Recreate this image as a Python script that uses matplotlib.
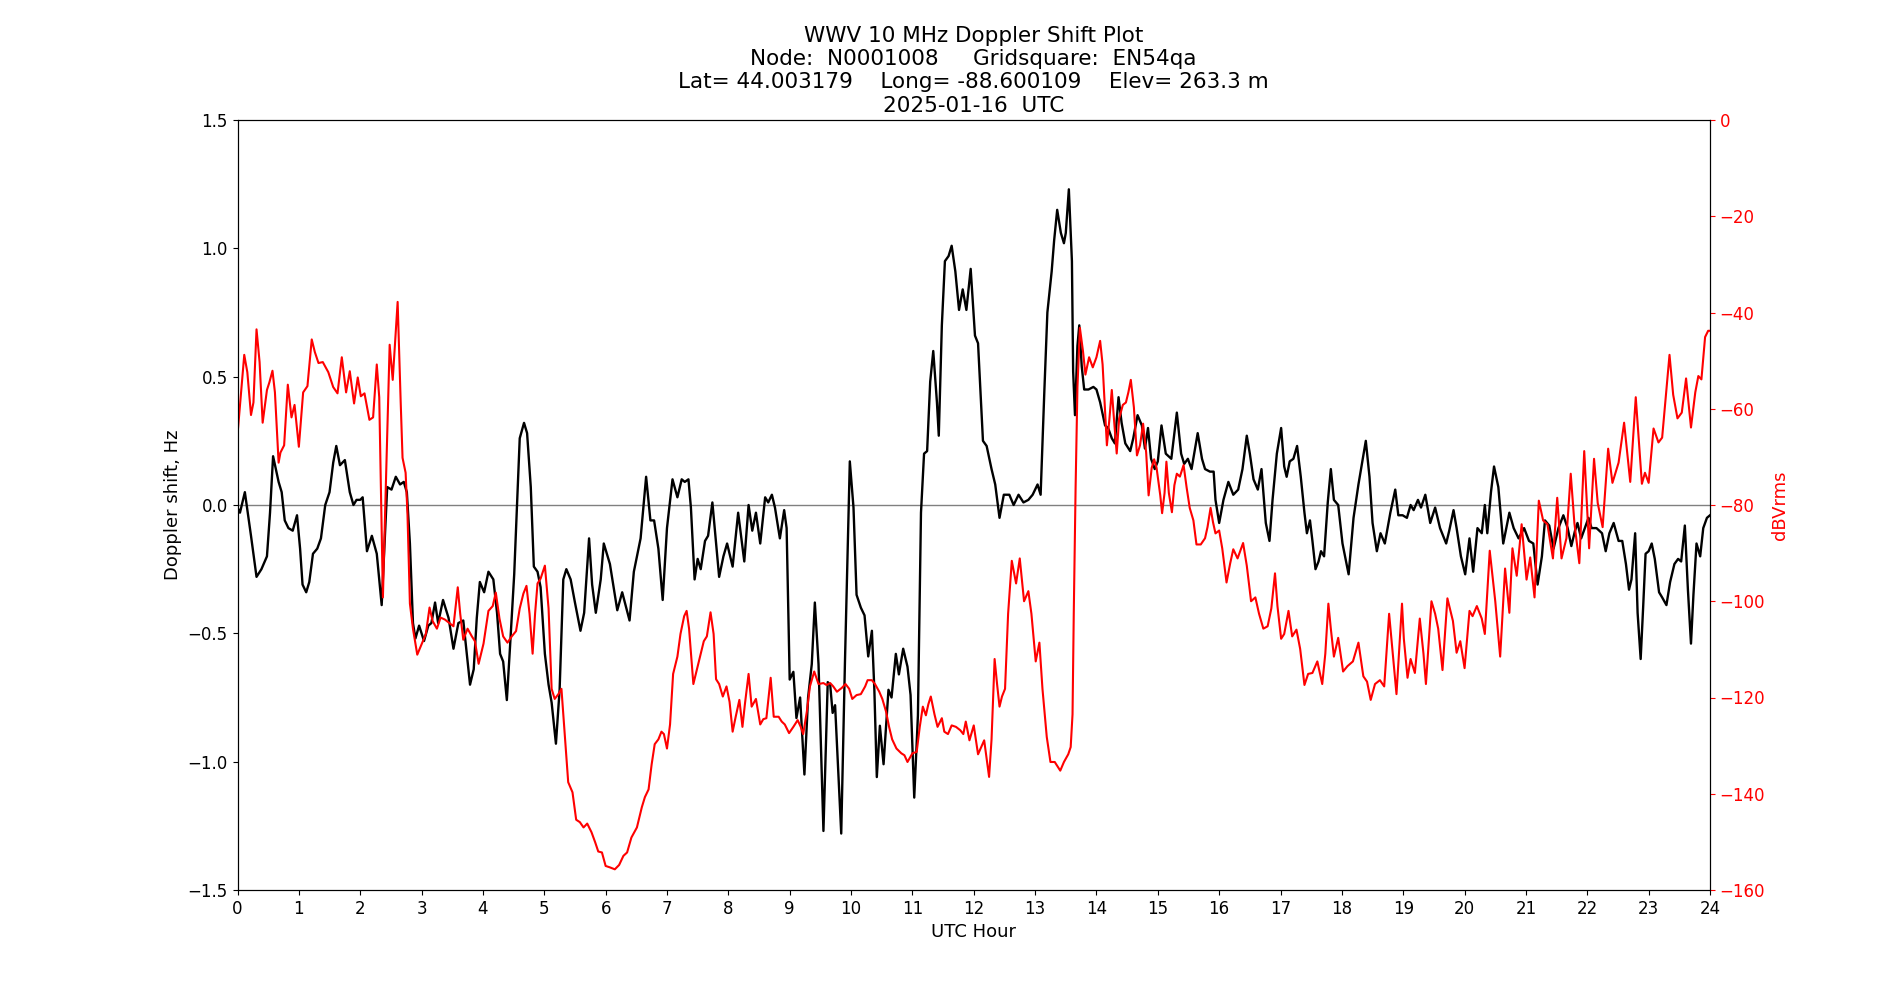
import matplotlib
matplotlib.use("Agg")
import matplotlib.pyplot as plt

title_text = ("WWV 10 MHz Doppler Shift Plot\n"
              "Node:  N0001008     Gridsquare:  EN54qa\n"
              "Lat= 44.003179    Long= -88.600109    Elev= 263.3 m\n"
              "2025-01-16  UTC")

doppler_hours = [
    0.0, 0.04, 0.12, 0.22, 0.31, 0.39, 0.48, 0.53, 0.58, 0.67, 0.72, 0.77, 0.83, 0.9, 0.97,
    1.02, 1.06, 1.12, 1.17, 1.23, 1.3, 1.36, 1.43, 1.5, 1.56, 1.61, 1.67, 1.75, 1.83, 1.89,
    1.94, 2.0, 2.04, 2.11, 2.19, 2.27, 2.35, 2.44, 2.51, 2.58, 2.65, 2.71, 2.76, 2.81, 2.86,
    2.9, 2.96, 3.04, 3.11, 3.16, 3.22, 3.27, 3.35, 3.44, 3.52, 3.6, 3.68, 3.72, 3.79, 3.85,
    3.9, 3.95, 4.02, 4.09, 4.17, 4.23, 4.28, 4.33, 4.39, 4.44, 4.51, 4.55, 4.6, 4.67, 4.72,
    4.78, 4.83, 4.89, 4.94, 5.01, 5.07, 5.12, 5.19, 5.25, 5.31, 5.36, 5.43, 5.5, 5.59, 5.65,
    5.73, 5.78, 5.84, 5.92, 5.97, 6.07, 6.19, 6.27, 6.39, 6.46, 6.57, 6.66, 6.73, 6.79, 6.86,
    6.93, 7.0, 7.09, 7.17, 7.24, 7.29, 7.35, 7.39, 7.45, 7.5, 7.55, 7.62, 7.67, 7.74, 7.8,
    7.85, 7.92, 7.98, 8.07, 8.16, 8.26, 8.33, 8.39, 8.45, 8.52, 8.6, 8.65, 8.71, 8.76, 8.84,
    8.91, 8.95, 9.0, 9.06, 9.11, 9.17, 9.24, 9.3, 9.36, 9.41, 9.47, 9.55, 9.62, 9.66, 9.7,
    9.74, 9.84, 9.9, 9.98, 10.04, 10.09, 10.16, 10.22, 10.28, 10.34, 10.38, 10.42, 10.47, 10.53, 10.61,
    10.66, 10.73, 10.78, 10.85, 10.92, 10.97, 11.03, 11.09, 11.14, 11.19, 11.24, 11.29, 11.34, 11.4, 11.43,
    11.48, 11.53, 11.59, 11.64, 11.7, 11.76, 11.82, 11.88, 11.95, 12.02, 12.07, 12.15, 12.21, 12.29, 12.35,
    12.42, 12.49, 12.58, 12.65, 12.73, 12.81, 12.89, 12.96, 13.04, 13.09, 13.15, 13.2, 13.27, 13.31, 13.36,
    13.42, 13.47, 13.5, 13.55, 13.6, 13.62, 13.65, 13.69, 13.72, 13.76, 13.8, 13.87, 13.95, 14.0, 14.06,
    14.14, 14.19, 14.25, 14.3, 14.36, 14.41, 14.47, 14.55, 14.6, 14.67, 14.74, 14.79, 14.84, 14.89, 14.95,
    15.0, 15.06, 15.13, 15.22, 15.31, 15.38, 15.43, 15.49, 15.55, 15.65, 15.72, 15.77, 15.85, 15.91, 15.94,
    16.0, 16.07, 16.15, 16.23, 16.31, 16.38, 16.45, 16.5, 16.56, 16.63, 16.69, 16.76, 16.82, 16.87, 16.94,
    17.01, 17.06, 17.1, 17.15, 17.21, 17.27, 17.33, 17.39, 17.43, 17.48, 17.52, 17.57, 17.62, 17.66, 17.71,
    17.77, 17.82, 17.87, 17.94, 18.01, 18.11, 18.19, 18.27, 18.34, 18.39, 18.45, 18.5, 18.57, 18.63, 18.7,
    18.79, 18.87, 18.92, 18.99, 19.06, 19.12, 19.17, 19.24, 19.29, 19.36, 19.44, 19.52, 19.6, 19.7, 19.75,
    19.82, 19.87, 19.94, 20.01, 20.08, 20.14, 20.21, 20.28, 20.33, 20.37, 20.43, 20.48, 20.55, 20.63, 20.73,
    20.8, 20.88, 20.97, 21.05, 21.12, 21.19, 21.26, 21.31, 21.38, 21.45, 21.53, 21.61, 21.68, 21.74, 21.8,
    21.84, 21.9, 21.96, 22.02, 22.07, 22.15, 22.24, 22.3, 22.36, 22.43, 22.51, 22.57, 22.63, 22.68, 22.72,
    22.78, 22.82, 22.87, 22.91, 22.95, 23.0, 23.05, 23.1, 23.17, 23.22, 23.29, 23.35, 23.42, 23.48, 23.53,
    23.59, 23.64, 23.69, 23.73, 23.78, 23.84, 23.89, 23.95, 24.0,
]
doppler_hz = [
    -0.01, -0.03, 0.05, -0.12, -0.28, -0.25, -0.2, -0.03, 0.19, 0.09, 0.05, -0.06, -0.09, -0.1, -0.04,
    -0.17, -0.31, -0.34, -0.3, -0.19, -0.17, -0.13, 0.0, 0.05, 0.165, 0.23, 0.155, 0.175, 0.05, 0.0,
    0.02, 0.02, 0.03, -0.18, -0.12, -0.19, -0.39, 0.07, 0.06, 0.11, 0.08, 0.09, 0.05, -0.15, -0.46,
    -0.52, -0.47, -0.53, -0.47, -0.46, -0.38, -0.46, -0.37, -0.44, -0.56, -0.46, -0.45, -0.54, -0.7, -0.64,
    -0.44, -0.3, -0.34, -0.26, -0.29, -0.42, -0.58, -0.61, -0.76, -0.56, -0.27, -0.03, 0.26, 0.32, 0.28,
    0.07, -0.24, -0.26, -0.32, -0.58, -0.7, -0.77, -0.93, -0.72, -0.29, -0.25, -0.29, -0.38, -0.49, -0.42,
    -0.13, -0.31, -0.42, -0.29, -0.15, -0.23, -0.41, -0.34, -0.45, -0.26, -0.13, 0.11, -0.06, -0.06, -0.17,
    -0.37, -0.09, 0.1, 0.03, 0.1, 0.09, 0.1, -0.01, -0.29, -0.21, -0.25, -0.14, -0.12, 0.01, -0.15,
    -0.28, -0.2, -0.15, -0.24, -0.03, -0.22, 0.0, -0.1, -0.03, -0.15, 0.03, 0.01, 0.04, -0.01, -0.13,
    -0.02, -0.09, -0.68, -0.65, -0.83, -0.75, -1.05, -0.75, -0.62, -0.38, -0.62, -1.27, -0.69, -0.7, -0.81,
    -0.78, -1.28, -0.62, 0.17, -0.01, -0.35, -0.4, -0.43, -0.59, -0.49, -0.72, -1.06, -0.86, -1.01, -0.72,
    -0.75, -0.58, -0.66, -0.56, -0.63, -0.74, -1.14, -0.82, -0.03, 0.2, 0.21, 0.48, 0.6, 0.4, 0.27,
    0.7, 0.95, 0.97, 1.01, 0.91, 0.76, 0.84, 0.76, 0.92, 0.66, 0.63, 0.25, 0.23, 0.14, 0.08,
    -0.05, 0.04, 0.04, 0.0, 0.04, 0.01, 0.02, 0.04, 0.08, 0.04, 0.44, 0.75, 0.91, 1.03, 1.15,
    1.06, 1.02, 1.06, 1.23, 0.95, 0.52, 0.35, 0.62, 0.7, 0.54, 0.45, 0.45, 0.46, 0.45, 0.4,
    0.31, 0.3, 0.26, 0.24, 0.42, 0.32, 0.24, 0.21, 0.26, 0.35, 0.31, 0.22, 0.3, 0.18, 0.14,
    0.17, 0.31, 0.2, 0.18, 0.36, 0.2, 0.16, 0.18, 0.14, 0.28, 0.18, 0.14, 0.13, 0.13, 0.02,
    -0.07, 0.02, 0.09, 0.04, 0.06, 0.14, 0.27, 0.2, 0.1, 0.06, 0.14, -0.07, -0.14, 0.02, 0.2,
    0.3, 0.15, 0.11, 0.17, 0.18, 0.23, 0.11, -0.03, -0.11, -0.06, -0.14, -0.25, -0.22, -0.18, -0.2,
    0.01, 0.14, 0.02, 0.0, -0.15, -0.27, -0.05, 0.08, 0.18, 0.25, 0.11, -0.07, -0.18, -0.11, -0.15,
    -0.03, 0.06, -0.04, -0.04, -0.05, 0.0, -0.02, 0.02, -0.01, 0.04, -0.07, -0.01, -0.09, -0.15, -0.1,
    -0.02, -0.09, -0.2, -0.27, -0.13, -0.26, -0.09, -0.11, 0.0, -0.11, 0.05, 0.15, 0.07, -0.15, -0.03,
    -0.09, -0.13, -0.09, -0.14, -0.15, -0.31, -0.2, -0.06, -0.08, -0.17, -0.09, -0.04, -0.09, -0.16, -0.1,
    -0.07, -0.13, -0.09, -0.05, -0.09, -0.09, -0.11, -0.18, -0.11, -0.07, -0.14, -0.14, -0.23, -0.33, -0.29,
    -0.11, -0.42, -0.6, -0.4, -0.19, -0.18, -0.15, -0.21, -0.34, -0.36, -0.39, -0.3, -0.23, -0.21, -0.22,
    -0.08, -0.33, -0.54, -0.35, -0.15, -0.2, -0.09, -0.05, -0.04,
]

power_hours = [
    0.01, 0.11, 0.16, 0.22, 0.26, 0.31, 0.36, 0.41, 0.48, 0.52, 0.57, 0.61, 0.67, 0.7, 0.76,
    0.82, 0.88, 0.93, 1.0, 1.07, 1.14, 1.21, 1.26, 1.32, 1.39, 1.48, 1.56, 1.63, 1.7, 1.77,
    1.83, 1.9, 1.96, 2.01, 2.07, 2.15, 2.21, 2.27, 2.31, 2.37, 2.41, 2.48, 2.53, 2.61, 2.66,
    2.69, 2.74, 2.77, 2.81, 2.86, 2.93, 3.02, 3.07, 3.13, 3.18, 3.25, 3.31, 3.38, 3.45, 3.52,
    3.59, 3.63, 3.68, 3.75, 3.82, 3.87, 3.93, 4.01, 4.09, 4.16, 4.21, 4.27, 4.33, 4.4, 4.47,
    4.54, 4.6, 4.66, 4.71, 4.76, 4.81, 4.85, 4.89, 4.94, 5.01, 5.07, 5.12, 5.17, 5.23, 5.28,
    5.34, 5.39, 5.46, 5.52, 5.58, 5.64, 5.7, 5.77, 5.83, 5.88, 5.94, 6.0, 6.07, 6.15, 6.22,
    6.29, 6.35, 6.42, 6.51, 6.59, 6.64, 6.7, 6.75, 6.8, 6.86, 6.91, 6.95, 7.0, 7.05, 7.1,
    7.17, 7.22, 7.28, 7.32, 7.36, 7.43, 7.48, 7.55, 7.6, 7.65, 7.71, 7.76, 7.8, 7.85, 7.91,
    7.97, 8.02, 8.07, 8.12, 8.18, 8.23, 8.27, 8.33, 8.38, 8.45, 8.52, 8.57, 8.62, 8.69, 8.74,
    8.82, 8.87, 8.92, 8.99, 9.06, 9.13, 9.18, 9.22, 9.28, 9.33, 9.4, 9.47, 9.55, 9.6, 9.66,
    9.71, 9.77, 9.85, 9.91, 9.97, 10.02, 10.09, 10.16, 10.23, 10.27, 10.34, 10.39, 10.46, 10.51, 10.57,
    10.62, 10.67, 10.74, 10.82, 10.87, 10.92, 11.0, 11.07, 11.12, 11.17, 11.22, 11.26, 11.3, 11.36, 11.41,
    11.48, 11.52, 11.58, 11.64, 11.71, 11.78, 11.83, 11.87, 11.93, 12.0, 12.07, 12.17, 12.25, 12.29, 12.34,
    12.38, 12.42, 12.46, 12.51, 12.56, 12.62, 12.69, 12.75, 12.82, 12.89, 12.94, 13.01, 13.07, 13.12, 13.19,
    13.25, 13.32, 13.41, 13.47, 13.54, 13.58, 13.61, 13.63, 13.66, 13.69, 13.73, 13.78, 13.82, 13.88, 13.94,
    14.0, 14.06, 14.1, 14.17, 14.21, 14.25, 14.29, 14.33, 14.37, 14.43, 14.48, 14.52, 14.56, 14.61, 14.66,
    14.71, 14.76, 14.81, 14.85, 14.9, 14.94, 14.98, 15.04, 15.07, 15.11, 15.14, 15.18, 15.23, 15.27, 15.31,
    15.36, 15.42, 15.47, 15.52, 15.58, 15.63, 15.7, 15.77, 15.81, 15.86, 15.9, 15.94, 16.0, 16.05, 16.12,
    16.18, 16.23, 16.3, 16.39, 16.45, 16.52, 16.59, 16.65, 16.72, 16.79, 16.85, 16.91, 16.95, 17.01, 17.06,
    17.13, 17.19, 17.26, 17.32, 17.39, 17.45, 17.52, 17.6, 17.68, 17.73, 17.78, 17.82, 17.87, 17.94, 18.02,
    18.09, 18.18, 18.27, 18.35, 18.41, 18.47, 18.54, 18.62, 18.69, 18.77, 18.83, 18.89, 18.98, 19.01, 19.07,
    19.12, 19.19, 19.27, 19.33, 19.37, 19.46, 19.52, 19.57, 19.64, 19.72, 19.81, 19.87, 19.93, 20.0, 20.08,
    20.13, 20.2, 20.28, 20.33, 20.41, 20.5, 20.58, 20.66, 20.73, 20.78, 20.85, 20.93, 21.01, 21.07, 21.14,
    21.21, 21.28, 21.35, 21.44, 21.51, 21.58, 21.66, 21.73, 21.79, 21.87, 21.95, 22.03, 22.11, 22.17, 22.25,
    22.34, 22.41, 22.51, 22.6, 22.7, 22.79, 22.89, 22.94, 23.0, 23.08, 23.16, 23.22, 23.34, 23.4, 23.47,
    23.54, 23.61, 23.69, 23.76, 23.81, 23.86, 23.92, 23.97, 24.0,
]
power_dbv = [
    -63.9, -48.8, -52.4, -61.3, -58.7, -43.5, -50.3, -62.9, -56.1, -54.5, -52.1, -56.6, -71.2, -69.1, -67.6,
    -55.0, -61.8, -59.2, -67.9, -56.6, -55.3, -45.6, -48.2, -50.5, -50.3, -52.4, -55.5, -56.8, -49.3, -56.6,
    -52.2, -58.9, -53.5, -57.4, -56.8, -62.3, -61.8, -50.8, -57.6, -99.2, -79.6, -46.7, -54.0, -37.8, -58.7,
    -70.2, -73.3, -81.7, -100.5, -105.7, -111.1, -108.3, -106.8, -101.3, -104.1, -105.7, -103.4, -103.8, -104.5, -105.2,
    -97.1, -102.6, -108.0, -105.7, -107.3, -108.3, -113.0, -108.8, -102.0, -101.0, -98.2, -103.6, -107.3, -108.6, -107.3,
    -106.2, -101.5, -98.4, -96.8, -102.6, -110.9, -102.6, -96.3, -95.3, -92.6, -101.5, -118.2, -120.3, -119.3, -118.2,
    -128.7, -137.6, -139.7, -145.4, -145.9, -147.0, -146.2, -148.0, -150.1, -152.0, -152.2, -155.0, -155.3, -155.7, -154.8,
    -152.9, -152.2, -149.1, -147.0, -142.8, -140.7, -139.1, -133.9, -129.7, -128.7, -127.1, -127.6, -130.6, -125.6, -115.1,
    -111.5, -106.8, -103.1, -102.0, -105.7, -117.2, -114.6, -110.9, -108.3, -107.3, -102.3, -106.8, -116.2, -117.2, -119.8,
    -117.7, -120.9, -127.1, -124.0, -120.5, -126.1, -121.4, -115.1, -121.9, -120.3, -125.6, -124.5, -124.3, -115.9, -124.0,
    -124.0, -125.0, -125.6, -127.4, -126.1, -124.7, -126.1, -127.6, -122.9, -117.7, -114.6, -117.2, -117.0, -117.4, -117.0,
    -117.7, -118.8, -118.0, -117.2, -118.2, -120.3, -119.5, -119.3, -117.7, -116.4, -116.4, -117.2, -118.8, -120.3, -122.9,
    -126.1, -128.7, -130.6, -131.6, -132.0, -133.4, -131.6, -131.3, -126.1, -121.9, -123.7, -121.4, -119.8, -123.5, -126.1,
    -124.3, -127.1, -127.6, -125.8, -126.1, -126.8, -127.6, -125.0, -128.9, -125.8, -131.8, -128.9, -136.5, -128.7, -112.0,
    -117.2, -121.9, -119.8, -118.2, -102.6, -91.6, -96.3, -91.1, -100.0, -97.9, -102.6, -112.5, -108.6, -118.2, -128.2,
    -133.4, -133.4, -135.2, -133.4, -131.8, -130.3, -123.5, -102.6, -76.4, -55.5, -43.2, -48.0, -52.9, -49.3, -51.4,
    -49.3, -45.9, -50.8, -67.6, -62.3, -56.1, -62.9, -69.3, -62.0, -59.2, -58.7, -56.6, -54.0, -59.7, -69.7,
    -67.6, -63.1, -69.1, -78.0, -72.3, -70.5, -72.3, -78.0, -81.7, -77.5, -71.0, -77.5, -81.5, -75.9, -73.5,
    -74.1, -71.7, -76.4, -80.6, -83.2, -88.2, -88.2, -86.9, -84.6, -80.6, -83.6, -85.9, -85.3, -89.0, -96.1,
    -92.1, -89.2, -91.1, -87.9, -92.6, -100.0, -99.2, -102.6, -105.7, -105.2, -101.5, -94.2, -101.0, -107.8, -106.8,
    -102.0, -107.3, -105.9, -109.9, -117.4, -115.1, -114.9, -112.5, -117.2, -110.9, -100.5, -105.7, -111.5, -107.6, -114.6,
    -113.5, -112.5, -108.6, -115.6, -116.7, -120.5, -117.2, -116.4, -117.7, -102.6, -110.9, -119.3, -100.5, -107.8, -115.9,
    -112.0, -114.9, -103.6, -110.9, -117.2, -100.0, -102.6, -105.7, -114.3, -99.4, -104.1, -110.7, -108.3, -113.9, -102.0,
    -103.1, -101.0, -103.6, -106.8, -89.5, -100.0, -111.5, -93.2, -102.4, -89.0, -94.7, -84.0, -95.5, -90.9, -99.2,
    -79.1, -83.2, -84.0, -91.1, -78.5, -91.1, -86.9, -73.5, -83.8, -92.1, -68.8, -89.0, -70.4, -79.6, -84.6,
    -68.3, -75.4, -71.2, -62.9, -75.2, -57.6, -75.6, -73.3, -75.4, -64.1, -67.0, -66.0, -48.8, -57.1, -62.0,
    -60.8, -53.7, -63.9, -56.6, -53.2, -53.9, -45.1, -43.8, -43.8,
]

fig = plt.figure(figsize=(19, 10), dpi=100)
ax = fig.add_subplot(111)
ax.axhline(0, color="gray", linewidth=1)
ax.plot(doppler_hours, doppler_hz, color="black", linewidth=1.7)
ax.set_xlim(0, 24)
ax.set_ylim(-1.5, 1.5)
ax.set_xticks(range(0, 25))
ax.set_xlabel("UTC Hour", fontsize=13)
ax.set_ylabel("Doppler shift, Hz", fontsize=13)
ax.tick_params(labelsize=12)
ax.set_title(title_text, fontsize=15.5)

ax2 = ax.twinx()
ax2.plot(power_hours, power_dbv, color="red", linewidth=1.5)
ax2.set_ylim(-160, 0)
ax2.set_ylabel("dBVrms", color="red", fontsize=13)
ax2.tick_params(axis="y", colors="red", labelsize=12)

fig.savefig("out.png", dpi=100)
